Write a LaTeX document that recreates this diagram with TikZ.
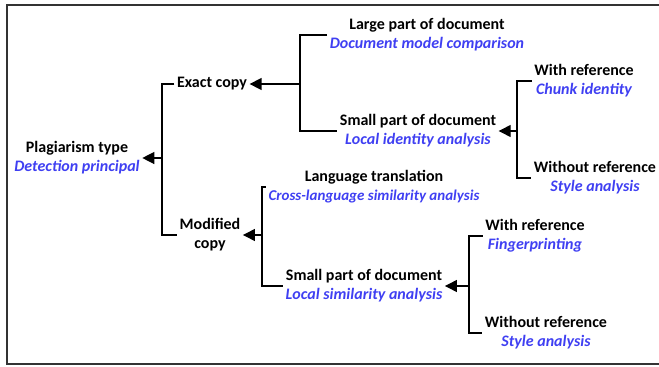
\documentclass[tikz,border=0pt]{standalone}
\usepackage{fontspec}
\setmainfont{Carlito}
\usepackage{xcolor}
\usepackage{tikz}
\usetikzlibrary{arrows.meta}
\definecolor{violetblue}{HTML}{3F3FF2}
\definecolor{framegray}{HTML}{333333}
\newcommand{\principle}[1]{\textcolor{violetblue}{\itshape #1}}

\begin{document}
\begin{tikzpicture}[x=1pt,y=-1pt,line width=1.3pt,
    lbl/.style={font=\fontsize{16}{19}\selectfont\bfseries,align=center,inner sep=2pt},
    arr/.style={-{Triangle[length=12pt,width=12pt]}}]
  \useasboundingbox (0,0) rectangle (659,367);
  \draw[framegray,line width=1.8pt] (659,5) -- (7,5) -- (7,364) -- (659,364);
  % root
  \node[lbl] (plag) at (77,158) {Plagiarism type\\ \principle{Detection principal}};
  % exact copy branch
  \node[lbl] (exact) at (212,84) {Exact copy};
  \node[lbl] (large) at (427,35) {Large part of document\\ \principle{Document model comparison}};
  \node[lbl] (smallid) at (418,131) {Small part of document\\ \principle{Local identity analysis}};
  \node[lbl] (withref) at (584,81) {With reference\\ \principle{Chunk identity}};
  \node[lbl] (noref) at (595,178) {Without reference\\ \principle{Style analysis}};
  % modified copy branch
  \node[lbl] (modif) at (210,235) {Modified\\ copy};
  \node[lbl] (lang) at (374,187) {Language translation\\ {\fontsize{15}{19}\selectfont\principle{Cross-language similarity analysis}}};
  \node[lbl] (smallsim) at (364,286) {Small part of document\\ \principle{Local similarity analysis}};
  \node[lbl] (withref2) at (535,236) {With reference\\ \principle{Fingerprinting}};
  \node[lbl] (noref2) at (546,333) {Without reference\\ \principle{Style analysis}};
  % spines
  \coordinate (sp0) at (162,158);
  \coordinate (sp1) at (300,84);
  \coordinate (sp2) at (517,131);
  \coordinate (sp3) at (262,235);
  \coordinate (sp4) at (469,286);
  % brackets
  \draw (exact.west) -| (sp0) |- (modif.west);
  \draw (large.west) -| (sp1) |- (smallid.west);
  \draw (withref.west) -| (sp2) |- (noref.west);
  \draw (lang.west) -| (sp3) |- (smallsim.west);
  \draw (withref2.west) -| (sp4) |- (noref2.west);
  % arrows back to the parent
  \draw[arr] (sp0) -- (plag.east);
  \draw[arr] (sp1) -- (exact.east);
  \draw[arr] (sp2) -- (smallid.east);
  \draw[arr] (sp3) -- (modif.east);
  \draw[arr] (sp4) -- (smallsim.east);
\end{tikzpicture}
\end{document}
